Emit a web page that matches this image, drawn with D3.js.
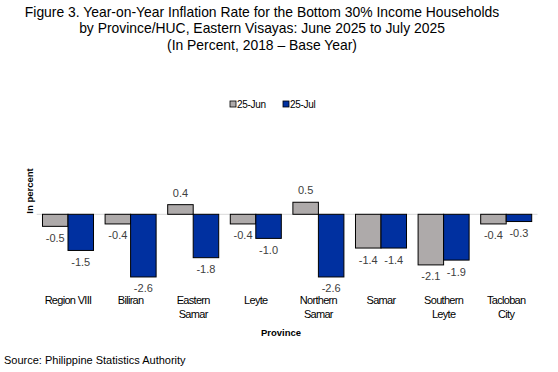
<!DOCTYPE html>
<html>
<head>
<meta charset="utf-8">
<script src="https://cdn.jsdelivr.net/npm/d3@7"></script>
<style>
  body { margin: 0; background: #fff; }
  text { font-family: "Liberation Sans", Arial, sans-serif; fill: #000; }
</style>
</head>
<body>
<div class="svg"></div>
<script>
var provinces = [["Region VIII"], ["Biliran"], ["Eastern", "Samar"], ["Leyte"],
                 ["Northern", "Samar"], ["Samar"], ["Southern", "Leyte"], ["Tacloban", "City"]];
var seriesNames = ["25-Jun", "25-Jul"];
var jun25 = [-0.5, -0.4, 0.4, -0.4, 0.5, -1.4, -2.1, -0.4];
var jul25 = [-1.5, -2.6, -1.8, -1.0, -2.6, -1.4, -1.9, -0.3];
var colors = ["#AEAAAA", "#0030A0"];
var titleLines = [
  "Figure 3. Year-on-Year Inflation Rate for the Bottom 30% Income Households",
  "by Province/HUC, Eastern Visayas: June 2025 to July 2025",
  "(In Percent, 2018 \u2013 Base Year)"
];

var w = 558, h = 372;
var svg = d3.select('div.svg').append('svg')
  .attr('width', w)
  .attr('height', h);

var labels = provinces.map(function (d) { return d.join(' '); });
var rows = labels.map(function (name, i) {
  return { name: name, lines: provinces[i], values: [jun25[i], jul25[i]] };
});

// scales
var x0 = d3.scaleBand().domain(labels).range([36.7, 537.5])
  .paddingInner(0.185).paddingOuter(0.0925);
var x1 = d3.scaleBand().domain([0, 1]).range([0, x0.bandwidth()]);
var y = d3.scaleLinear().domain([-3, 1]).range([286.6, 190.2]);

// title
svg.selectAll('text.title')
  .data(titleLines)
  .enter()
  .append('text')
  .attr('class', 'title')
  .attr('x', 262)
  .attr('y', function (d, i) { return 17 + i * 16.3; })
  .attr('text-anchor', 'middle')
  .attr('font-size', '13.9px')
  .text(function (d) { return d; });

// legend
var legend = svg.selectAll('g.legend')
  .data(seriesNames)
  .enter()
  .append('g')
  .attr('transform', function (d, i) { return 'translate(' + (230 + i * 53) + ',101)'; });
legend.append('rect')
  .attr('width', 6).attr('height', 6)
  .attr('fill', function (d, i) { return colors[i]; })
  .attr('stroke', '#000').attr('stroke-width', 0.8);
legend.append('text')
  .attr('x', 7).attr('y', 6.5)
  .attr('font-size', '10px')
  .attr('letter-spacing', '-0.3px')
  .text(function (d) { return d; });

// zero line
svg.append('line')
  .attr('x1', 36.7).attr('x2', 537.5)
  .attr('y1', y(0)).attr('y2', y(0))
  .attr('stroke', '#d9d9d9').attr('stroke-width', 1);

// bars
var groups = svg.selectAll('g.cat')
  .data(rows)
  .enter()
  .append('g')
  .attr('transform', function (d) { return 'translate(' + x0(d.name) + ',0)'; });

groups.selectAll('rect')
  .data(function (d) { return d.values; })
  .enter()
  .append('rect')
  .attr('x', function (d, i) { return x1(i); })
  .attr('y', function (d) { return y(Math.max(0, d)); })
  .attr('width', x1.bandwidth())
  .attr('height', function (d) { return Math.abs(y(d) - y(0)); })
  .attr('fill', function (d, i) { return colors[i]; })
  .attr('stroke', '#000').attr('stroke-width', 1);

groups.selectAll('text.val')
  .data(function (d) { return d.values; })
  .enter()
  .append('text')
  .attr('class', 'val')
  .attr('x', function (d, i) { return x1(i) + x1.bandwidth() / 2; })
  .attr('y', function (d) { return d >= 0 ? y(d) - 8 : y(d) + 15.5; })
  .attr('text-anchor', 'middle')
  .attr('font-size', '11px')
  .style('fill', '#404040')
  .text(function (d) { return d.toFixed(1); });

// category labels
groups.selectAll('text.cat')
  .data(function (d) { return d.lines; })
  .enter()
  .append('text')
  .attr('x', x0.bandwidth() / 2)
  .attr('y', function (d, i) { return 304 + i * 14; })
  .attr('text-anchor', 'middle')
  .attr('font-size', '11px')
  .attr('letter-spacing', '-0.7px')
  .text(function (d) { return d; });

// axis titles
svg.append('text')
  .attr('x', 281).attr('y', 336)
  .attr('text-anchor', 'middle')
  .attr('font-size', '9.5px').attr('font-weight', 'bold')
  .text('Province');

svg.append('text')
  .attr('transform', 'translate(33,191) rotate(-90)')
  .attr('text-anchor', 'middle')
  .attr('font-size', '9.5px').attr('font-weight', 'bold')
  .text('In percent');

// source
svg.append('text')
  .attr('x', 4).attr('y', 364)
  .attr('font-size', '11px')
  .text('Source: Philippine Statistics Authority');
</script>
</body>
</html>
